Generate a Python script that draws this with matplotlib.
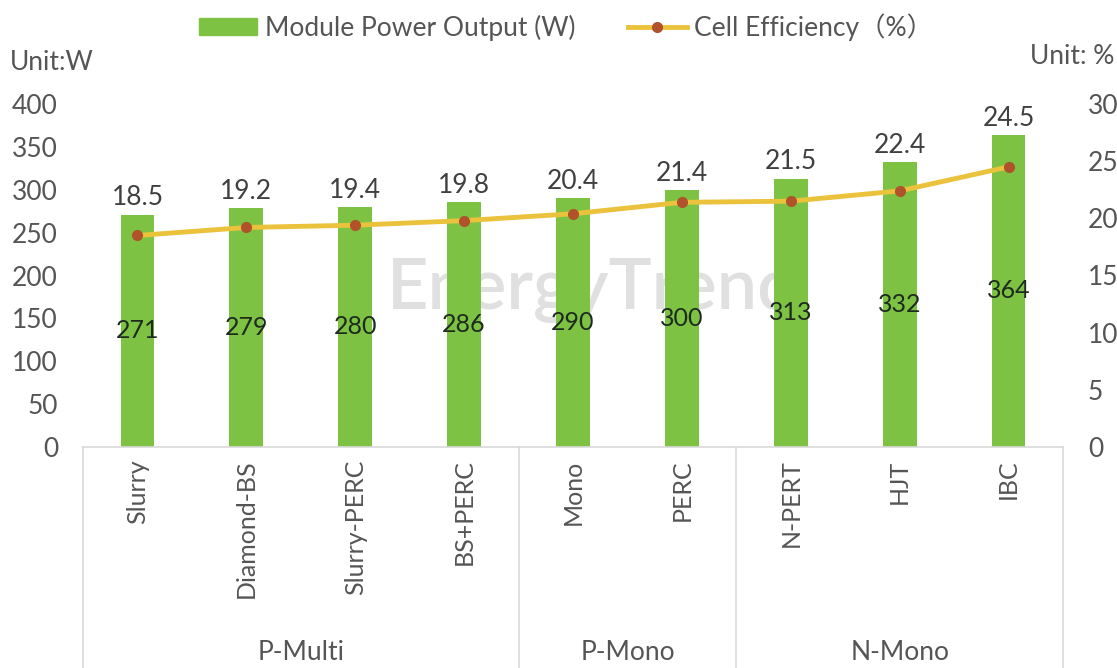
import matplotlib
matplotlib.use("Agg")
import matplotlib.pyplot as plt
from matplotlib.transforms import blended_transform_factory
from matplotlib.patches import Patch
from matplotlib.lines import Line2D

plt.rcParams['font.family'] = ['Lato', 'Noto Sans CJK SC', 'DejaVu Sans']

categories = ["Slurry", "Diamond-BS", "Slurry-PERC", "BS+PERC", "Mono", "PERC", "N-PERT", "HJT", "IBC"]
groups = ["P-Multi", "P-Mono", "N-Mono"]
group_sizes = [4, 2, 3]
power_w = [271, 279, 280, 286, 290, 300, 313, 332, 364]
efficiency = [18.5, 19.2, 19.4, 19.8, 20.4, 21.4, 21.5, 22.4, 24.5]
left_ticks = [0, 50, 100, 150, 200, 250, 300, 350, 400]
right_ticks = [0, 5, 10, 15, 20, 25, 30]

BAR = "#7DC243"
LINE = "#EBC23C"
MARK = "#B0522B"
TXT = "#555555"
GRID = "#D9D9D9"
FS = 19

fig = plt.figure(figsize=(11.17, 6.68), dpi=100)
ax = fig.add_axes([83/1117, 1-447/668, (1063-83)/1117, (447-104)/668])
ax2 = ax.twinx()

x = list(range(len(categories)))
ax.bar(x, power_w, width=0.31, color=BAR, zorder=2)
ax.set_xlim(-0.5, len(categories)-0.5)
ax.set_ylim(0, 400)
ax.set_yticks(left_ticks)
ax.tick_params(axis='y', length=0, pad=18, labelsize=FS, labelcolor=TXT)
ax.set_xticks(x)
ax.set_xticklabels(categories, rotation=90, fontsize=18, color=TXT)
ax.tick_params(axis='x', length=0, pad=9)
for s in ['top', 'left', 'right']:
    ax.spines[s].set_visible(False)
ax.spines['bottom'].set_color(GRID)
ax.spines['bottom'].set_linewidth(1.2)
for s in ['top', 'left', 'right', 'bottom']:
    ax2.spines[s].set_visible(False)

ax2.plot(x, efficiency, color=LINE, linewidth=3.5, marker='o', markersize=7,
         markerfacecolor=MARK, markeredgecolor=MARK, zorder=3)
ax2.set_ylim(0, 30)
ax2.set_yticks(right_ticks)
ax2.tick_params(axis='y', length=0, pad=18, labelsize=FS, labelcolor=TXT)
for lbl in ax2.get_yticklabels():
    lbl.set_horizontalalignment('left')

# watermark
ax.text(0.52, 0.46, "EnergyTrend", transform=ax.transAxes, fontsize=52, fontweight='semibold',
        color="#9A9A9A", alpha=0.3, ha='center', va='center', zorder=1)

# labels
for xi, p, e in zip(x, power_w, efficiency):
    ax.text(xi, p/2, str(p), ha='center', va='center', fontsize=18, color="#1E2A1E", zorder=4)
    ax.annotate(f"{e}", (xi, p), xytext=(0, 3), textcoords='offset points',
                ha='center', va='bottom', fontsize=FS, color="#404040", zorder=4)

# group dividers and labels
tr = blended_transform_factory(ax.transData, fig.transFigure)
bounds = [-0.5]
for g in group_sizes:
    bounds.append(bounds[-1] + g)
for b in bounds:
    ax.plot([b, b], [0, 1-447/668], transform=tr, color=GRID, linewidth=1.2, clip_on=False)
for i, g in enumerate(groups):
    ax.text((bounds[i]+bounds[i+1])/2, 1-652/668, g, transform=tr, ha='center', va='center',
            fontsize=FS, color=TXT)

fig.text(10/1117, 1-63/668, "Unit:W", fontsize=FS, color=TXT, ha='left', va='center')
fig.text(1030/1117, 1-56/668, "Unit: %", fontsize=FS, color=TXT, ha='left', va='center')

handles = [Patch(color=BAR),
           Line2D([0], [0], color=LINE, linewidth=3.5, marker='o', markersize=7,
                  markerfacecolor=MARK, markeredgecolor=MARK)]
fig.legend(handles, ["Module Power Output (W)", "Cell Efficiency（%）"], loc='center',
           bbox_to_anchor=(0.507, 1-27/668), ncol=2, frameon=False, fontsize=FS,
           labelcolor=TXT, handlelength=2.2, handleheight=0.6, columnspacing=2.0, handletextpad=0.3)

fig.savefig("out.png", dpi=100, facecolor='white')
